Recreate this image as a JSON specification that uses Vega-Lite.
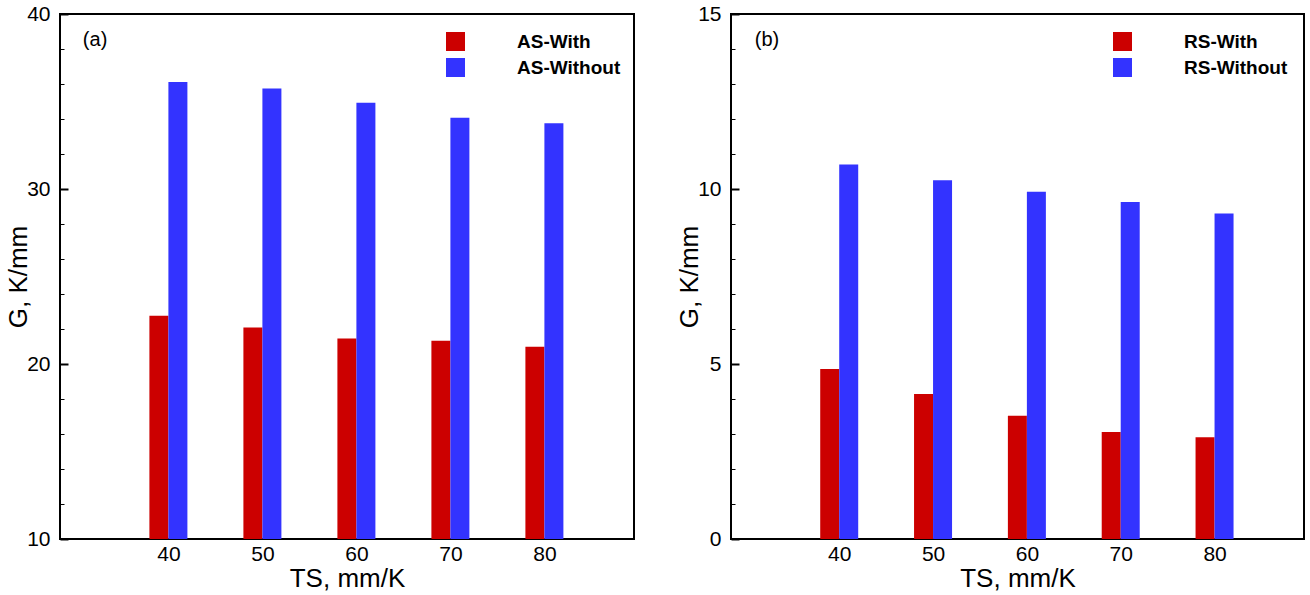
{
  "$schema": "https://vega.github.io/schema/vega-lite/v6.json",
  "background": "white",
  "padding": {"left": 4, "top": 2, "right": 0, "bottom": 0},
  "datasets": {
    "a": [
      {"TS": 40, "series": "AS-With", "G": 22.76},
      {"TS": 50, "series": "AS-With", "G": 22.09},
      {"TS": 60, "series": "AS-With", "G": 21.46},
      {"TS": 70, "series": "AS-With", "G": 21.33},
      {"TS": 80, "series": "AS-With", "G": 20.98},
      {"TS": 40, "series": "AS-Without", "G": 36.11},
      {"TS": 50, "series": "AS-Without", "G": 35.74},
      {"TS": 60, "series": "AS-Without", "G": 34.93},
      {"TS": 70, "series": "AS-Without", "G": 34.07},
      {"TS": 80, "series": "AS-Without", "G": 33.76}
    ],
    "b": [
      {"TS": 40, "series": "RS-With", "G": 4.86},
      {"TS": 50, "series": "RS-With", "G": 4.14},
      {"TS": 60, "series": "RS-With", "G": 3.52},
      {"TS": 70, "series": "RS-With", "G": 3.06},
      {"TS": 80, "series": "RS-With", "G": 2.91},
      {"TS": 40, "series": "RS-Without", "G": 10.70},
      {"TS": 50, "series": "RS-Without", "G": 10.25},
      {"TS": 60, "series": "RS-Without", "G": 9.92},
      {"TS": 70, "series": "RS-Without", "G": 9.63},
      {"TS": 80, "series": "RS-Without", "G": 9.30}
    ],
    "one": [{"label": "x"}]
  },
  "config": {
    "font": "Liberation Sans",
    "view": {"stroke": "black", "strokeWidth": 2},
    "axis": {
      "labelColor": "black", "titleColor": "black",
      "labelFont": "Liberation Sans", "titleFont": "Liberation Sans",
      "titleFontWeight": "normal", "grid": false, "domain": false,
      "tickColor": "black", "zindex": 1
    }
  },
  "spacing": 40,
  "resolve": {"scale": {"color": "independent"}},
  "hconcat": [
    {
      "width": 574, "height": 525,
      "layer": [
        {
          "data": {"name": "a"},
          "transform": [{"filter": "datum.series === 'AS-With'"}],
          "mark": {"type": "bar", "size": 19, "xOffset": -9.5, "clip": true},
          "encoding": {
            "x": {"field": "TS", "type": "quantitative", "scale": {"domain": [29, 89], "nice": false, "zero": false},
                  "axis": {"values": [40, 50, 60, 70, 80], "ticks": false, "labelFontSize": 21, "labelPadding": 4, "title": "TS, mm/K", "titleFontSize": 26, "titlePadding": 1, "labelFlush": false, "orient": "bottom"}},
            "y": {"field": "G", "type": "quantitative", "scale": {"domain": [10, 40], "nice": false, "zero": false},
                  "axis": {"orient": "left", "values": [10, 20, 30, 40], "ticks": false, "labelPadding": 10, "labelFontSize": 21, "labelFlush": false, "title": "G, K/mm", "titleFontSize": 26, "titlePadding": -5}},
            "color": {"field": "series", "type": "nominal",
                      "scale": {"domain": ["AS-With", "AS-Without"], "range": ["#CC0000", "#3333FF"]},
                      "legend": {"orient": "none", "legendX": 386, "legendY": 18, "title": null, "symbolType": "square", "symbolSize": 361, "symbolOpacity": 1, "symbolStrokeWidth": 0, "labelFontSize": 19, "labelFontWeight": "bold", "labelColor": "black", "labelOffset": 52, "rowPadding": 6, "padding": 0}}
          }
        },
        {
          "data": {"name": "a"},
          "transform": [{"filter": "datum.series === 'AS-Without'"}],
          "mark": {"type": "bar", "size": 19, "xOffset": 9.5, "clip": true},
          "encoding": {
            "x": {"field": "TS", "type": "quantitative", "scale": {"domain": [29, 89], "nice": false, "zero": false},
                  "axis": {"values": [40, 50, 60, 70, 80], "ticks": false, "labelFontSize": 21, "labelPadding": 4, "title": "TS, mm/K", "titleFontSize": 26, "titlePadding": 1, "labelFlush": false, "orient": "bottom"}},
            "y": {"field": "G", "type": "quantitative", "scale": {"domain": [10, 40], "nice": false, "zero": false},
                  "axis": {"orient": "left", "values": [10, 20, 30, 40], "offset": -8, "tickSize": 8, "tickWidth": 2, "labels": false, "title": null}},
            "color": {"field": "series", "type": "nominal",
                      "scale": {"domain": ["AS-With", "AS-Without"], "range": ["#CC0000", "#3333FF"]},
                      "legend": {"orient": "none", "legendX": 386, "legendY": 18, "title": null, "symbolType": "square", "symbolSize": 361, "symbolOpacity": 1, "symbolStrokeWidth": 0, "labelFontSize": 19, "labelFontWeight": "bold", "labelColor": "black", "labelOffset": 52, "rowPadding": 6, "padding": 0}}
          }
        },
        {
          "data": {"name": "one"},
          "mark": {"type": "text", "text": "(a)", "align": "left", "baseline": "alphabetic", "fontSize": 20, "fontWeight": "normal", "font": "Liberation Sans", "color": "black"},
          "encoding": {
            "x": {"datum": 30.9, "type": "quantitative",
                  "axis": {"values": [40, 50, 60, 70, 80], "ticks": false, "labelFontSize": 21, "labelPadding": 4, "title": "TS, mm/K", "titleFontSize": 26, "titlePadding": 1, "labelFlush": false, "orient": "bottom"}},
            "y": {"datum": 38.17, "type": "quantitative", "scale": {"domain": [10, 40], "nice": false, "zero": false},
                  "axis": {"orient": "left", "values": [12, 14, 16, 18, 22, 24, 26, 28, 32, 34, 36, 38], "offset": -4, "tickSize": 4, "tickWidth": 1, "labels": false, "title": null}}
          }
        }
      ],
      "resolve": {"scale": {"y": "independent"}, "axis": {"y": "independent"}}
    },
    {
      "width": 573, "height": 525,
      "layer": [
        {
          "data": {"name": "b"},
          "transform": [{"filter": "datum.series === 'RS-With'"}],
          "mark": {"type": "bar", "size": 19, "xOffset": -9.5, "clip": true},
          "encoding": {
            "x": {"field": "TS", "type": "quantitative", "scale": {"domain": [29, 89], "nice": false, "zero": false},
                  "axis": {"values": [40, 50, 60, 70, 80], "ticks": false, "labelFontSize": 21, "labelPadding": 4, "title": "TS, mm/K", "titleFontSize": 26, "titlePadding": 1, "labelFlush": false, "orient": "bottom"}},
            "y": {"field": "G", "type": "quantitative", "scale": {"domain": [0, 15], "nice": false},
                  "axis": {"orient": "left", "values": [0, 5, 10, 15], "ticks": false, "labelPadding": 10, "labelFontSize": 21, "labelFlush": false, "title": "G, K/mm", "titleFontSize": 26, "titlePadding": -5}},
            "color": {"field": "series", "type": "nominal",
                      "scale": {"domain": ["RS-With", "RS-Without"], "range": ["#CC0000", "#3333FF"]},
                      "legend": {"orient": "none", "legendX": 382, "legendY": 18, "title": null, "symbolType": "square", "symbolSize": 361, "symbolOpacity": 1, "symbolStrokeWidth": 0, "labelFontSize": 19, "labelFontWeight": "bold", "labelColor": "black", "labelOffset": 52, "rowPadding": 6, "padding": 0}}
          }
        },
        {
          "data": {"name": "b"},
          "transform": [{"filter": "datum.series === 'RS-Without'"}],
          "mark": {"type": "bar", "size": 19, "xOffset": 9.5, "clip": true},
          "encoding": {
            "x": {"field": "TS", "type": "quantitative", "scale": {"domain": [29, 89], "nice": false, "zero": false},
                  "axis": {"values": [40, 50, 60, 70, 80], "ticks": false, "labelFontSize": 21, "labelPadding": 4, "title": "TS, mm/K", "titleFontSize": 26, "titlePadding": 1, "labelFlush": false, "orient": "bottom"}},
            "y": {"field": "G", "type": "quantitative", "scale": {"domain": [0, 15], "nice": false},
                  "axis": {"orient": "left", "values": [0, 5, 10, 15], "offset": -8, "tickSize": 8, "tickWidth": 2, "labels": false, "title": null}},
            "color": {"field": "series", "type": "nominal",
                      "scale": {"domain": ["RS-With", "RS-Without"], "range": ["#CC0000", "#3333FF"]},
                      "legend": {"orient": "none", "legendX": 382, "legendY": 18, "title": null, "symbolType": "square", "symbolSize": 361, "symbolOpacity": 1, "symbolStrokeWidth": 0, "labelFontSize": 19, "labelFontWeight": "bold", "labelColor": "black", "labelOffset": 52, "rowPadding": 6, "padding": 0}}
          }
        },
        {
          "data": {"name": "one"},
          "mark": {"type": "text", "text": "(b)", "align": "left", "baseline": "alphabetic", "fontSize": 20, "fontWeight": "normal", "font": "Liberation Sans", "color": "black"},
          "encoding": {
            "x": {"datum": 31.0, "type": "quantitative",
                  "axis": {"values": [40, 50, 60, 70, 80], "ticks": false, "labelFontSize": 21, "labelPadding": 4, "title": "TS, mm/K", "titleFontSize": 26, "titlePadding": 1, "labelFlush": false, "orient": "bottom"}},
            "y": {"datum": 14.09, "type": "quantitative", "scale": {"domain": [0, 15], "nice": false},
                  "axis": {"orient": "left", "values": [1, 2, 3, 4, 6, 7, 8, 9, 11, 12, 13, 14], "offset": -4, "tickSize": 4, "tickWidth": 1, "labels": false, "title": null}}
          }
        }
      ],
      "resolve": {"scale": {"y": "independent"}, "axis": {"y": "independent"}}
    }
  ]
}
